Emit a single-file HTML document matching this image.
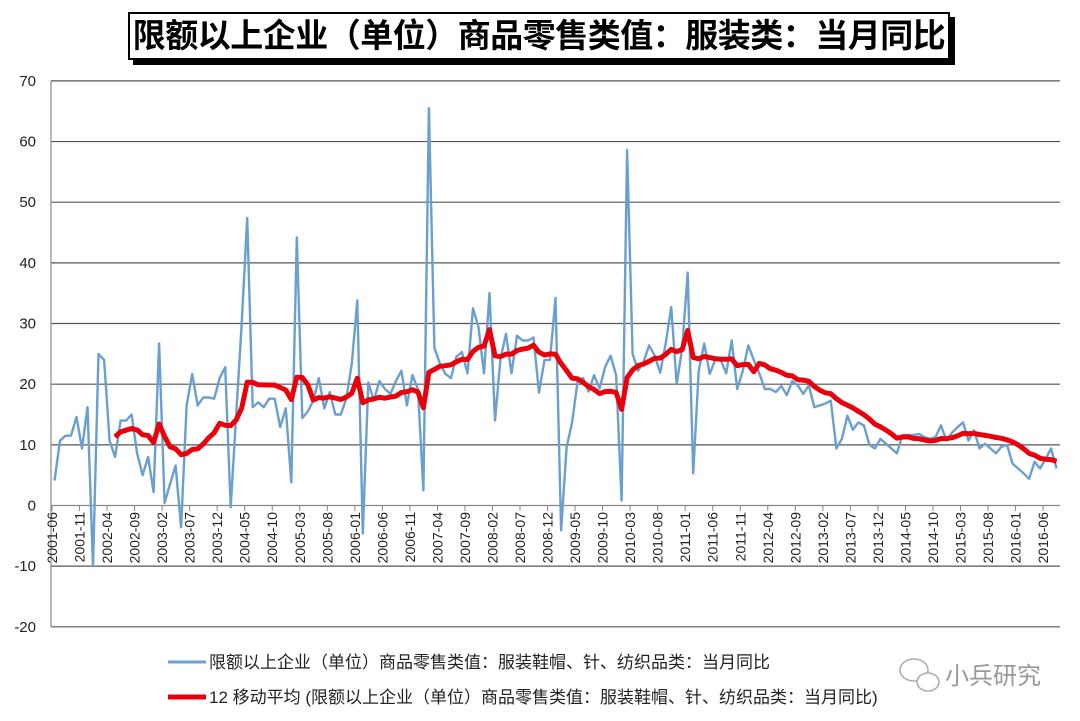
<!DOCTYPE html>
<html><head><meta charset="utf-8"><style>
html,body{margin:0;padding:0;background:#fff;}
#c{position:relative;width:1080px;height:721px;overflow:hidden;font-family:"Liberation Sans","Noto Sans CJK SC",sans-serif;}
#title{position:absolute;left:128px;top:12px;width:818px;height:44px;border:2px solid #000;box-shadow:5px 5px 0 #000;background:#fff;text-align:center;font-size:33px;font-weight:bold;line-height:44px;letter-spacing:-0.5px;font-family:"Liberation Sans","Noto Sans CJK SC",sans-serif;}
</style></head><body><div id="c">
<div id="title">限额以上企业（单位）商品零售类值：服装类：当月同比</div>
<svg id="s" width="1080" height="721" style="position:absolute;left:0;top:0"></svg>
</div>
<script>
var d=[4.1,10.7,11.5,11.5,14.6,9.4,16.2,-10,25,24,10.7,8,14,14,15,8.6,5,8,2.2,26.7,0.4,3.6,6.6,-3.6,16.5,21.7,16.5,17.8,17.8,17.6,21,22.8,-0.3,15,30,47.4,16.2,17,16.2,17.6,17.6,12.9,16,3.8,44.2,14.4,15.5,17.3,21,16,18.7,15,15,17.6,23.4,33.8,-4.6,20.3,17.3,
20.5,19.2,18.4,20.5,22.2,16.5,21.5,19.2,2.5,65.5,26,23.4,21.7,21,24.5,25.3,21.8,32.5,29.4,21.8,35,14,24.2,28.3,21.8,28,27.2,27.2,27.7,18.6,24,24,34.2,-4.1,9.6,13.7,20.5,21,18.8,21.5,19.3,22.8,24.7,21.5,0.8,58.6,25,22.2,23.7,26.4,24.7,21.9,26.7,32.7,20,26,38.4,5.3,22.2,26.7,21.7,24,
24,21.8,27.2,19.2,22.2,26.4,24,21.8,19.2,19.2,18.7,19.7,18.2,20.5,19.8,18.4,19.8,16.2,16.5,16.8,17.3,9.4,11,14.8,12.5,13.7,13.2,10,9.4,11,10.2,9.4,8.6,11.6,11.6,11.6,11.8,11.3,11,11.3,13.2,10.7,12,12.9,13.7,10.7,12.4,9.4,10.2,9.4,8.6,9.7,10,6.9,6.1,5.3,4.4,7.2,6.1,7.7,9.4,6.1];
function X(i){return 54.5+5.506*i;}
function Y(v){return 505.5-v*6.066;}
var h='';
for(var k=-2;k<=7;k++){var y=Y(k*10);h+='<line x1="51" x2="1060" y1="'+y+'" y2="'+y+'" stroke="'+(k==0?'#888':'#555')+'" stroke-width="1.2"/>';
h+='<text x="36" y="'+(y+5)+'" text-anchor="end" font-size="15" fill="#222" font-family="Liberation Sans">'+(k*10)+'</text>';}
h+='<line x1="51" x2="51" y1="81" y2="627" stroke="#888" stroke-width="1.2"/>';
for(var m=0;m<=180;m+=5){var x=52+5.506*m;var yr=2001+Math.floor((5+m)/12),mo=(5+m)%12+1;
h+='<line x1="'+x+'" x2="'+x+'" y1="505" y2="511" stroke="#888"/>';
h+='<text transform="translate('+(x+5)+',512) rotate(-90)" text-anchor="end" font-size="14" fill="#222" font-family="Liberation Sans">'+yr+'-'+(mo<10?'0':'')+mo+'</text>';}
var p='';for(var i=0;i<d.length;i++)p+=(i?'L':'M')+X(i).toFixed(1)+' '+Y(d[i]).toFixed(1);
h+='<path d="'+p+'" fill="none" stroke="#6a9fcf" stroke-width="2.4" stroke-linejoin="round"/>';
var q='';for(var i=11;i<d.length;i++){var s=0;for(var j=i-11;j<=i;j++)s+=d[j];s/=12;q+=(i>11?'L':'M')+X(i).toFixed(1)+' '+Y(s).toFixed(1);}
h+='<path d="'+q+'" fill="none" stroke="#e8000b" stroke-width="5" stroke-linejoin="round"/>';
h+='<line x1="168" x2="206" y1="662" y2="662" stroke="#6a9fcf" stroke-width="3"/>';
h+='<text x="209" y="668" font-size="17" fill="#222" font-family="Liberation Sans,Noto Sans CJK SC">限额以上企业（单位）商品零售类值：服装鞋帽、针、纺织品类：当月同比</text>';
h+='<line x1="168" x2="206" y1="697" y2="697" stroke="#e8000b" stroke-width="5"/>';
h+='<text x="209" y="703" font-size="17" fill="#222" font-family="Liberation Sans,Noto Sans CJK SC">12 移动平均 (限额以上企业（单位）商品零售类值：服装鞋帽、针、纺织品类：当月同比)</text>';
h+='<ellipse cx="914" cy="670" rx="14" ry="11" fill="none" stroke="#aaa" stroke-width="1.5"/><ellipse cx="928" cy="682" rx="11" ry="9" fill="#fff" stroke="#aaa" stroke-width="1.5"/>';
h+='<text x="945" y="684" font-size="24" fill="#999" font-family="Noto Sans CJK SC">小兵研究</text>';
document.getElementById('s').innerHTML=h;
</script>
</body></html>
